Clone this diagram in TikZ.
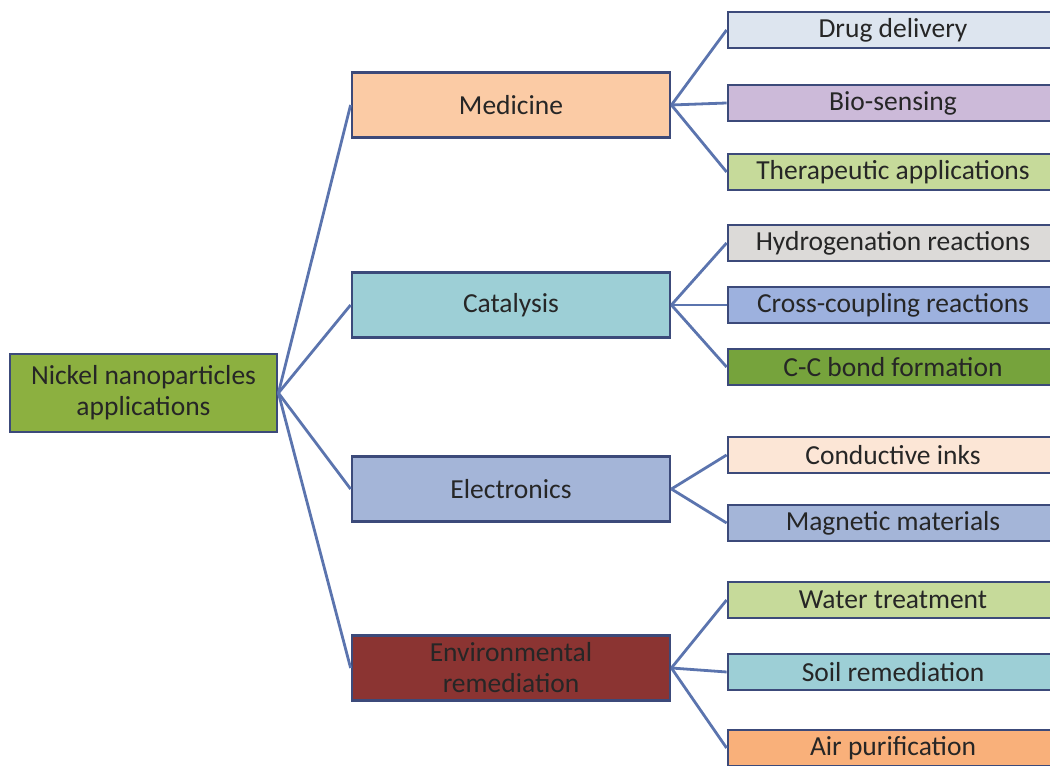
\documentclass[tikz,border=0pt]{standalone}
\usepackage{fontspec}
\setmainfont{Carlito}
\usetikzlibrary{trees}
\definecolor{boxline}{HTML}{3C4A7A}
\definecolor{linkline}{HTML}{5B74AE}
\definecolor{textgray}{HTML}{262626}
\definecolor{rootgreen}{HTML}{8CB040}
\definecolor{medpeach}{HTML}{FBCBA5}
\definecolor{catteal}{HTML}{9DCFD6}
\definecolor{elecblue}{HTML}{A4B5D8}
\definecolor{envred}{HTML}{8B3432}
\definecolor{druggray}{HTML}{DDE5EF}
\definecolor{biolilac}{HTML}{CCBAD9}
\definecolor{therapgreen}{HTML}{C6DA9A}
\definecolor{hydrogray}{HTML}{DCDAD8}
\definecolor{crossblue}{HTML}{9DB1DE}
\definecolor{ccgreen}{HTML}{76A33C}
\definecolor{inkpeach}{HTML}{FCE6D6}
\definecolor{airorange}{HTML}{F9B07A}

\begin{document}
\begin{tikzpicture}
[x=1pt,y=1pt,grow'=right,%
  every node/.style={shape=rectangle,draw=boxline,line width=2.8pt,text=textgray,align=center,font=\fontsize{27.5}{31}\selectfont},%
  edge from parent/.style={draw=linkline,line width=2.8pt},%
  edge from parent path={(\tikzparentnode.east) -- (\tikzchildnode.west)},%
  level 1/.style={level distance=367.5pt,sibling distance=188pt},%
  level 2/.style={level distance=382pt},%
  topbox/.style={minimum width=318pt,minimum height=65pt,inner sep=0pt},%
  leafbox/.style={minimum width=330pt,minimum height=36pt,inner sep=0pt}]
\useasboundingbox (0,0) rectangle (1050,766);
\clip (0,0) rectangle (1050,766);
\node[fill=rootgreen,minimum width=267pt,minimum height=78pt,inner sep=0pt] (root) at (143.5,373) {Nickel nanoparticles\\applications}
  child[yshift=6pt] {node[topbox,fill=medpeach] (med) {Medicine}
    [sibling distance=71pt]
    child[yshift=4pt] {node[leafbox,fill=druggray] (drug) {Drug delivery}}
    child[yshift=2pt] {node[leafbox,fill=biolilac] (bio) {Bio-sensing}}
    child[yshift=4pt] {node[leafbox,fill=therapgreen] (therap) {Therapeutic applications}}
  }
  child[yshift=-6pt] {node[topbox,fill=catteal] (cat) {Catalysis}
    [sibling distance=62pt]
    child {node[leafbox,fill=hydrogray] (hydro) {Hydrogenation reactions}}
    child {node[leafbox,fill=crossblue] (cross) {Cross-coupling reactions}}
    child {node[leafbox,fill=ccgreen] (ccbond) {C-C bond formation}}
  }
  child[yshift=-2pt] {node[topbox,fill=elecblue] (elec) {Electronics}
    [sibling distance=68pt]
    child {node[leafbox,fill=inkpeach] (inks) {Conductive inks}}
    child {node[leafbox,fill=elecblue] (magnet) {Magnetic materials}}
  }
  child[yshift=7pt] {node[topbox,fill=envred] (env) {Environmental\\remediation}
    [sibling distance=74pt]
    child[yshift=-6pt] {node[leafbox,fill=therapgreen] (water) {Water treatment}}
    child[yshift=-4pt] {node[leafbox,fill=catteal] (soil) {Soil remediation}}
    child[yshift=-6pt] {node[leafbox,fill=airorange] (air) {Air purification}}
  };
\end{tikzpicture}
\end{document}
